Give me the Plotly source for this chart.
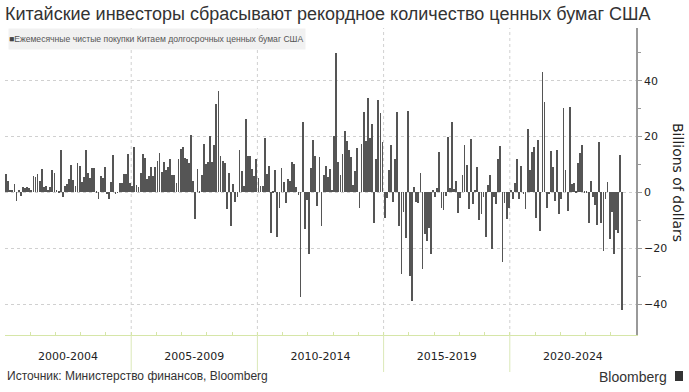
import plotly.graph_objects as go

# Monthly net purchases of long-term US securities by China, billions of dollars (Jan 2000 - Jun 2024)
values_2000_2003 = [6.6, 4, 0.8, 0.8, 2.9, -3, 0.8, -1.3, 1.8, 1.5, 1.8, 1.5, 0.8, 6, 5.6, 6.6, 4, 8.4, 2, 2.3,
                    0.8, 2, 8, 6.8, 1, 0.5, 15.2, -1.5, 2.4, 3, 4.7, 9.8, 4.4, 2.4, 10.6, 9.4, 3.8, 5.6, 15.2, 6.8,
                    5, 8.6, 8.6, 0.2, -2.2, 5.9, 5, 9, -0.6]
values_2004_2008 = [-2.2, 3.8, 13.4, -0.4, -0.2, 3.2, 3.2, 6.6, 6.6, 13.7, 3.2, 2.4, 16.4, 2.6, 2, 7, 13.7, 12.4,
                    4.8, 5.9, 9.2, 5.9, 9.2, 11.4, 14.2, 7.4, 10.8, 8, 9.2, 11.8, 6.2, 6.2, 3.2, 11.8, 15.5, 16.4,
                    12.4, 11.8, 10.4, 20.5, 4, -9.7, 8.5, 0.3, 6.1, 17.3, 10.2, 10.9, 20.2]
values_2008_2012 = [10.8, 17, 31.7, 36.3, 13, 11.2, 10.6, -6, 6.9, -12, 2.9, -3.6, -1.8, 15.2, 7.8, 2.4, 26.3, 13,
                    13, 8.4, 5.7, 12, 5.1, 2.4, 2.4, 19.4, 6.6, 9.4, -14.7, 0.5, 8, -15.9, -5.7, 8.8, 3.7, -3.7,
                    4.7, 4.2, 11, 10.2, 2, -1, -37.4, 25.3, -13.1, -2.7, -21.9, 8.8, 18.8, 13.1]
values_2012_2016 = [-4.8, 12.8, -12, 6.2, 9.4, 5.6, 8.4, 0.8, 20.2, 50, 10.8, 6.2, 13.6, 22.1, 18.4, 15.2, 12.8,
                    2.6, 7.6, 16, -5.5, 17.2, 28.7, 18.4, 33.7, 19.6, 24.5, -10.8, 11.8, 33, 28.3, 17.9, -9, -1.9,
                    8, 17, -3.3, 11.8, 28.8, -12, -29.3, -6.9, -16.2, 29.3, -29.9, -38.8, 1.8, -3.3, -3.7, 7,
                    -27.6, -14.9]
values_2016_2020 = [-17.3, -12.7, -22.2, 0.8, -1.6, 1.4, 14.3, -5.5, -6.3, -1.2, 20, 1.7, 25.3, 1.2, 4.2, -7.3,
                    -1.9, 6.2, 17, 9.8, -6, 19.1, -4.3, 0.8, 9.2, -9.9, -7.9, -1.6, -15.9, 2.6, 6.2, -20.2, -1.6,
                    -4.2, 12, 16.6, -24.9, -3.7, -9.4, -5.5, 0.8, -2.4, 3.2, 11.8, -2.2, 9.6, -0.4, -6.1]
values_2020_2024 = [22.7, 8, 14.6, 16.4, -9, 18.8, -13.9, 43, 32.4, -5.7, -0.7, 14.8, 9.2, -3, 15.1, -7.9, -2.5,
                    30.3, 8, -6.6, 30.6, 2.9, 3.5, 0.6, 10.4, 14, 17, 0.3, 0.2, -10.8, 4.1, -1.8, -4.5, -11.7,
                    18.2, -11.1, -21, -2.5, 3.8, -16.8, -6.9, -21.9, -13.3, -14.5, 13.4, -42.2]

period_labels = ["2000-2004", "2005-2009", "2010-2014", "2015-2019", "2020-2024"]
months_per_period = 60
y_ticks = [-40, -20, 0, 20, 40]
y_minor = [-30, -10, 10, 30, 50]

series_name = "Ежемесячные чистые покупки Китаем долгосрочных ценных бумаг США"
title_text = "Китайские инвесторы сбрасывают рекордное количество ценных бумаг США"
source_text = "Источник: Министерство финансов, Bloomberg"
y_title = "Billions of dollars"

values = (values_2000_2003 + values_2004_2008 + values_2008_2012 +
          values_2012_2016 + values_2016_2020 + values_2020_2024)
months = list(range(len(values)))
n_total = months_per_period * len(period_labels)
centers = [months_per_period * k + (months_per_period - 1) / 2 for k in range(len(period_labels))]
boundaries = [months_per_period * k - 0.5 for k in range(1, len(period_labels))]
years = [12 * k - 0.5 for k in range(1, n_total // 12)]

W, H = 689, 392
ml, mr, mt, mb = 5, 53, 28, 57
pw, ph = W - ml - mr, H - mt - mb

def px(x):
    return (x - ml) / pw

def py(y):
    return (H - mb - y) / ph

fig = go.Figure()
fig.add_trace(go.Bar(x=months, y=values, name=series_name, marker=dict(color="#555555", line=dict(width=0)),
                     width=0.38, showlegend=False))

shapes = []
for b in boundaries:
    shapes.append(dict(type="line", xref="x", yref="paper", x0=b, x1=b, y0=0, y1=1,
                       line=dict(color="#d0d0d0", width=1, dash="dot"), layer="below"))
    shapes.append(dict(type="line", xref="x", yref="paper", x0=b, x1=b, y0=0, y1=py(372),
                       line=dict(color="#dbe8b8", width=1)))
# Bloomberg logo mark
shapes.append(dict(type="rect", xref="paper", yref="paper", x0=px(675), x1=px(683), y0=py(381), y1=py(371),
                   fillcolor="#333", line=dict(width=0)))

annotations = [
    dict(text='<span style="color:#444">■</span>' + series_name, xref="paper", yref="paper",
         x=px(8), y=1, xanchor="left", yanchor="top", showarrow=False, align="left",
         width=296, height=20, bgcolor="#f1f1f1", borderpad=0,
         font=dict(family="Liberation Sans, Arial", size=8.6, color="#555")),
    dict(text=source_text, xref="paper", yref="paper", x=0, y=py(376), xanchor="left", yanchor="middle",
         showarrow=False, font=dict(family="Liberation Sans, Arial", size=12, color="#333")),
    dict(text="Bloomberg", xref="paper", yref="paper", x=px(669), y=py(377), xanchor="right", yanchor="middle",
         showarrow=False, font=dict(family="Liberation Sans, Arial", size=14, color="#333")),
    dict(text=y_title, xref="paper", yref="paper", x=px(678), y=py(182), xanchor="center", yanchor="middle",
         textangle=90, showarrow=False, font=dict(family="DejaVu Sans", size=14, color="#222")),
]

fig.update_layout(
    width=W, height=H,
    margin=dict(l=ml, r=mr, t=mt, b=mb),
    paper_bgcolor="white", plot_bgcolor="white",
    title=dict(text=title_text, x=5 / W, xref="container", xanchor="left",
               y=1 - 14 / H, yref="container", yanchor="middle",
               font=dict(family="Liberation Sans, Arial", size=18, color="#333")),
    bargap=0,
    shapes=shapes,
    annotations=annotations,
    xaxis=dict(range=[-0.5, n_total - 0.5], tickvals=centers, ticktext=period_labels, ticks="",
               showgrid=False, zeroline=False, showline=True, linecolor="#d6e6a8", linewidth=1,
               ticklabelstandoff=11,
               tickfont=dict(family="DejaVu Sans", size=11, color="#222"),
               minor=dict(tickvals=years, ticks="inside", ticklen=3, tickcolor="#d6e6a8", showgrid=False)),
    yaxis=dict(side="right", range=[-51.1, 58.9], tickvals=y_ticks, ticks="outside", ticklen=4,
               tickcolor="#999", showline=True, linecolor="#999", linewidth=1.5, zeroline=False,
               showgrid=True, gridcolor="#d0d0d0", griddash="dot", gridwidth=1,
               tickfont=dict(family="DejaVu Sans", size=11, color="#222"),
               minor=dict(tickvals=y_minor, ticks="outside", ticklen=3, tickcolor="#999", showgrid=False)),
)

fig.write_html("out.html", config={"displayModeBar": False},
               post_script="document.body.style.margin='0px';")
